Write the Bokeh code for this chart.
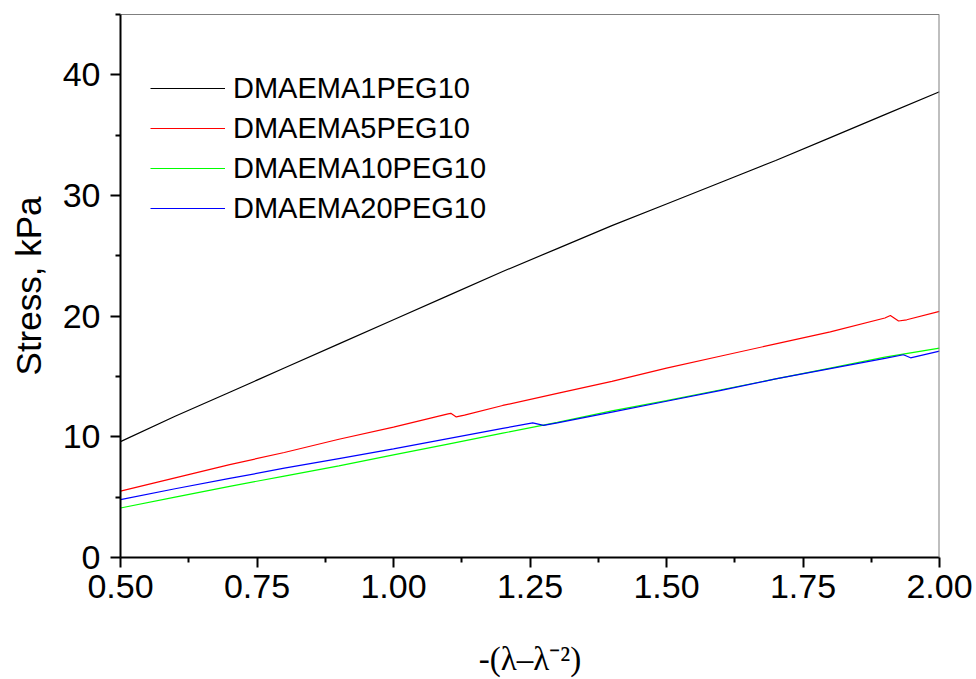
from bokeh.plotting import figure
from bokeh.models import Range1d, FixedTicker, Span, Legend, LegendItem, NumeralTickFormatter
from bokeh.embed import file_html
from bokeh.resources import INLINE

# Stress vs. -(lambda - lambda^-2) for the four hydrogels
x_black = [0.50, 0.60, 0.70, 0.75, 0.80, 0.90, 1.00, 1.10, 1.20, 1.30, 1.40, 1.50, 1.60, 1.70, 1.80, 1.90, 2.00]
y_black = [9.6, 11.7, 13.7, 14.7, 15.7, 17.7, 19.7, 21.7, 23.7, 25.6, 27.5, 29.3, 31.1, 32.9, 34.8, 36.7, 38.6]

x_red = [0.50, 0.60, 0.70, 0.80, 0.90, 1.00, 1.10, 1.105, 1.115, 1.13, 1.20, 1.30, 1.40, 1.50, 1.60, 1.70, 1.80, 1.90, 1.91, 1.925, 1.94, 2.00]
y_red = [5.5, 6.6, 7.7, 8.7, 9.8, 10.8, 11.9, 11.95, 11.65, 11.8, 12.6, 13.6, 14.6, 15.7, 16.7, 17.7, 18.7, 19.85, 20.05, 19.6, 19.7, 20.4]

x_green = [0.50, 0.60, 0.70, 0.80, 0.90, 1.00, 1.10, 1.20, 1.30, 1.40, 1.50, 1.60, 1.70, 1.80, 1.90, 2.00]
y_green = [4.1, 5.0, 5.9, 6.75, 7.6, 8.5, 9.4, 10.3, 11.2, 12.15, 13.0, 13.9, 14.8, 15.7, 16.6, 17.35]

x_blue = [0.50, 0.60, 0.70, 0.80, 0.90, 1.00, 1.10, 1.20, 1.255, 1.275, 1.30, 1.40, 1.50, 1.60, 1.70, 1.80, 1.90, 1.934, 1.947, 2.00]
y_blue = [4.8, 5.7, 6.55, 7.4, 8.2, 9.0, 9.85, 10.7, 11.15, 10.95, 11.15, 12.05, 12.95, 13.85, 14.8, 15.65, 16.5, 16.8, 16.55, 17.1]

series_names = ["DMAEMA1PEG10", "DMAEMA5PEG10", "DMAEMA10PEG10", "DMAEMA20PEG10"]
series_colors = ["#000000", "#ff0000", "#00ff00", "#0000ff"]

x_ticks = [0.5, 0.75, 1.0, 1.25, 1.5, 1.75, 2.0]
x_minor = [0.625, 0.875, 1.125, 1.375, 1.625, 1.875]
y_ticks = [0, 10, 20, 30, 40]
y_minor = [5, 15, 25, 35, 45]

SANS = "Liberation Sans"
SERIF = "Liberation Serif"

p = figure(width=976, height=679, output_backend="svg", toolbar_location=None,
           x_range=Range1d(0.5, 2.0), y_range=Range1d(0, 45),
           min_border_left=120, min_border_right=37,
           min_border_top=14, min_border_bottom=122)
p.xgrid.visible = False
p.ygrid.visible = False
p.outline_line_color = None
p.background_fill_color = "white"
p.border_fill_color = "white"

# frame: thin black top, grey right edge
p.add_layout(Span(location=45, dimension="width", line_color="black", line_width=1))
p.add_layout(Span(location=2.0, dimension="height", line_color="#808080", line_width=2))

renderers = []
for xs, ys, col in [(x_black, y_black, series_colors[0]), (x_red, y_red, series_colors[1]),
                    (x_green, y_green, series_colors[2]), (x_blue, y_blue, series_colors[3])]:
    renderers.append(p.line(xs, ys, line_color=col, line_width=1.2))

for ax in (p.xaxis[0], p.yaxis[0]):
    ax.axis_line_width = 2
    ax.axis_line_color = "black"
    ax.major_tick_line_width = 2
    ax.minor_tick_line_width = 2
    ax.major_tick_in = 0
    ax.minor_tick_in = 0
    ax.major_tick_out = 10
    ax.minor_tick_out = 5
    ax.major_label_text_font = SANS
    ax.major_label_text_font_size = "34px"
    ax.major_label_text_color = "black"
    ax.axis_label_text_color = "black"
    ax.axis_label_text_font_style = "normal"

p.xaxis[0].ticker = FixedTicker(ticks=x_ticks, minor_ticks=x_minor)
p.xaxis[0].formatter = NumeralTickFormatter(format="0.00")
p.xaxis[0].major_label_standoff = 7
p.xaxis[0].axis_label = "-(λ–λ⁻²)"
p.xaxis[0].axis_label_text_font = SERIF
p.xaxis[0].axis_label_text_font_size = "33px"
p.xaxis[0].axis_label_standoff = 40

p.yaxis[0].ticker = FixedTicker(ticks=y_ticks, minor_ticks=y_minor)
p.yaxis[0].major_label_standoff = 10
p.yaxis[0].axis_label = "Stress, kPa"
p.yaxis[0].axis_label_text_font = SANS
p.yaxis[0].axis_label_text_font_size = "35px"
p.yaxis[0].axis_label_standoff = 12

legend = Legend(items=[LegendItem(label=n, renderers=[r]) for n, r in zip(series_names, renderers)],
                location=(30, 329), glyph_width=75, glyph_height=40, label_height=40,
                label_standoff=8, spacing=0, padding=0, margin=0,
                label_text_font=SANS, label_text_font_size="29px", label_text_color="black",
                border_line_color=None, background_fill_alpha=0)
p.add_layout(legend)

open("out.html", "w").write(file_html(p, INLINE))
